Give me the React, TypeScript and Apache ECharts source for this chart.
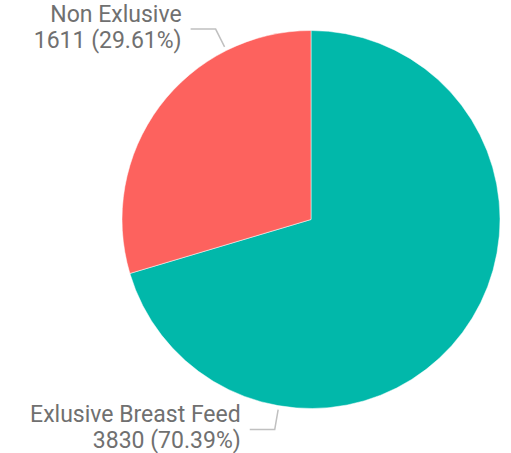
import React, { useEffect, useRef } from 'react';
import * as echarts from 'echarts';

const categories = ['Exlusive Breast Feed', 'Non Exlusive'];
const values = [3830, 1611];
const colors = ['#01B8AA', '#FD625E'];

// layout constants (pixels / degrees clockwise from 12 o'clock)
const CX = 311;
const CY = 219.5;
const R = 189;
const labelAngles = [189.8, 333.4];

export default function App() {
  const ref = useRef<HTMLDivElement>(null);
  useEffect(() => {
    if (!ref.current) return;
    const chart = echarts.init(ref.current, null, { renderer: 'svg' });
    chart.setOption({
      animation: false,
      backgroundColor: '#ffffff',
      series: [
        {
          type: 'pie',
          center: [CX, CY],
          radius: [0, R],
          startAngle: 90,
          clockwise: true,
          avoidLabelOverlap: false,
          data: categories.map((name, i) => ({
            name,
            value: values[i],
            itemStyle: { color: colors[i] },
          })),
          itemStyle: { borderColor: '#ffffff', borderWidth: 0.5 },
          label: {
            show: true,
            position: 'outside',
            formatter: '{b}\n{c} ({d}%)',
            fontFamily: 'Roboto',
            fontSize: 23,
            lineHeight: 26,
            color: '#707070',
            align: 'right',
            overflow: 'none',
          },
          labelLine: {
            show: true,
            lineStyle: { color: '#c0c0c0', width: 1.5 },
          },
          labelLayout: (params: any) => {
            const a = (labelAngles[params.dataIndex] * Math.PI) / 180;
            const sx = Math.sin(a);
            const sy = -Math.cos(a);
            const p0 = [CX + sx * (R + 4), CY + sy * (R + 4)];
            const p1 = [CX + sx * (R + 24), CY + sy * (R + 24)];
            const p2 = [p1[0] - 25, p1[1]];
            return {
              x: p2[0] - 9,
              y: p1[1] - 2,
              align: 'right',
              verticalAlign: 'middle',
              width: 300,
              labelLinePoints: [p0, p1, p2],
            };
          },
        },
      ],
    });
    return () => chart.dispose();
  }, []);
  return (
    <div
      ref={ref}
      style={{ position: 'absolute', left: 0, top: 0, width: 511, height: 453 }}
    />
  );
}
